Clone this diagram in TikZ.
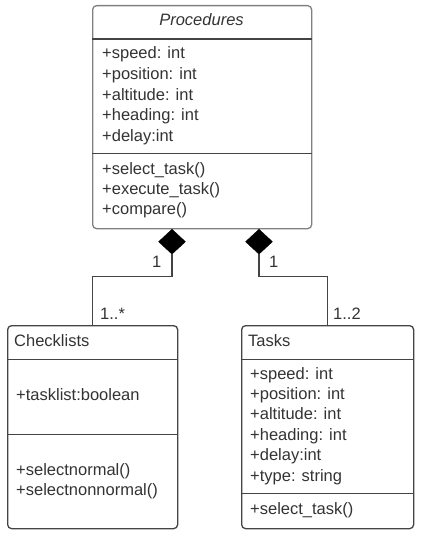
\documentclass[tikz,border=0pt]{standalone}
\usepackage{fontspec}
\setmainfont{Liberation Sans}
\usepackage{xcolor}
\usepackage{tikz}
\usetikzlibrary{positioning,shapes.geometric}
\definecolor{umltext}{HTML}{333333}
\definecolor{umlline}{HTML}{444444}
\tikzset{
  cls/.style={draw=umlline,line width=1.3pt,rounded corners=4pt,anchor=north west,inner sep=0pt},
  sep/.style={draw=umlline,line width=1pt},
  txt/.style={anchor=base west,inner sep=0pt,text=umltext,font=\fontsize{16.5}{20}\selectfont},
  comp/.style={diamond,fill=black,draw=black,inner sep=0pt,minimum width=27pt,minimum height=25pt,anchor=north},
  link/.style={draw=umlline,line width=1.3pt}
}

\begin{document}
\begin{tikzpicture}[x=1pt,y=-1pt]
    \useasboundingbox (0,0) rectangle (421,535);
    \node[cls,draw=gray,minimum width=219pt,minimum height=223pt] (proc) at (92,5) {};
    \node[cls,minimum width=170pt,minimum height=203pt] (check) at (7,325) {};
    \node[cls,minimum width=172pt,minimum height=203pt] (tasks) at (241,325) {};
    \draw[sep,line width=1.4pt] (proc.west |- 0,39) -- (proc.east |- 0,39);
    \draw[sep] (proc.west |- 0,153) -- (proc.east |- 0,153);
    \draw[sep] (check.west |- 0,359) -- (check.east |- 0,359);
    \draw[sep] (check.west |- 0,434) -- (check.east |- 0,434);
    \draw[sep] (tasks.west |- 0,359) -- (tasks.east |- 0,359);
    \draw[sep] (tasks.west |- 0,493) -- (tasks.east |- 0,493);
    \node[txt,anchor=base,font=\fontsize{16.5}{20}\selectfont\itshape] (procname) at (201.5,25.5) {Procedures};
    \foreach \t [count=\i from 0] in {+speed: int,+position: int,+altitude: int,+heading: int,+delay:int}
      \node[txt] (procattr\i) at (102,59+20.5*\i) {\t};
    \foreach \t [count=\i from 0] in {+select\_task(),+execute\_task(),+compare()}
      \node[txt] (procop\i) at (102,174+20*\i) {\t};
    \node[txt] (checkname) at (14,346) {Checklists};
    \node[txt] (checkattr) at (16,400) {+tasklist:boolean};
    \node[txt] (checkop0) at (16,475) {+selectnormal()};
    \node[txt] (checkop1) at (16,495) {+selectnonnormal()};
    \node[txt] (taskname) at (248,346) {Tasks};
    \foreach \t [count=\i from 0] in {+speed: int,+position: int,+altitude: int,+heading: int,+delay:int,+type: string}
      \node[txt] (taskattr\i) at (250,379+20.4*\i) {\t};
    \node[txt] (taskop) at (250,514) {+select\_task()};
    \node[comp] (dl) at (172,229) {};
    \node[comp] (dr) at (259,229) {};
    \draw[link] (dl.south) -- ++(0,22) -| (check.north);
    \draw[link] (dr.south) -- ++(0,22) -| (tasks.north);
    \node[txt] (dlmult) at (152,267) {1};
    \node[txt] (drmult) at (269,267) {1};
    \node[txt] (checkmult) at (100,319) {1..*};
    \node[txt] (taskmult) at (333,319) {1..2};
  \end{tikzpicture}
\end{document}
